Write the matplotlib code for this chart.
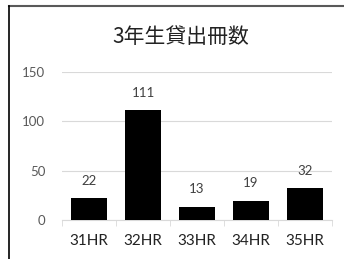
import matplotlib
matplotlib.use("Agg")
import matplotlib.pyplot as plt
from matplotlib.lines import Line2D

classes = ["31HR", "32HR", "33HR", "34HR", "35HR"]
counts = [22, 111, 13, 19, 32]
yticks = [0, 50, 100, 150]
title = "3年生貸出冊数"

fig = plt.figure(figsize=(3.44, 2.59), dpi=100)
ax = fig.add_axes([62/344, 1 - 220/259, (332-62)/344, (220-72)/259])

x = range(len(classes))
ax.bar(x, counts, width=0.66, color="black", zorder=3)
for i, v in enumerate(counts):
    ax.text(i, v + 18, str(v), ha="center", va="center", fontsize=9.5,
            family="Lato", color="#404040")

ax.set_xlim(-0.5, len(classes) - 0.5)
ax.set_ylim(0, 150)
ax.set_yticks(yticks)
ax.set_yticklabels([str(t) for t in yticks], family="Lato", fontsize=9.5, color="#595959")
ax.set_xticks(list(x))
ax.set_xticklabels(classes, family="Lato", fontsize=11, color="#222222")
ax.tick_params(axis="y", length=0, pad=12)
ax.tick_params(axis="x", length=0, pad=10)
ax.set_xticks([i - 0.5 for i in range(len(classes) + 1)], minor=True)
ax.tick_params(axis="x", which="minor", length=4, color="#d9d9d9", direction="out")
ax.grid(axis="y", color="#d9d9d9", linewidth=0.8, zorder=0)
for s in ["top", "right", "left"]:
    ax.spines[s].set_visible(False)
ax.spines["bottom"].set_color("#d9d9d9")

fig.text(181/344, 1 - 37/259, title, ha="center", va="center", fontsize=15,
         family=["Noto Sans CJK JP", "DejaVu Sans"], color="#222222")

# chart frame, cut at the right and bottom
fig.add_artist(Line2D([8.5/344, 1], [1 - 5.5/259, 1 - 5.5/259], transform=fig.transFigure,
                      color="#595959", linewidth=1.5))
fig.add_artist(Line2D([8.5/344, 8.5/344], [0, 1 - 5.5/259], transform=fig.transFigure,
                      color="black", linewidth=1.2))

fig.savefig("out.png", dpi=100)
